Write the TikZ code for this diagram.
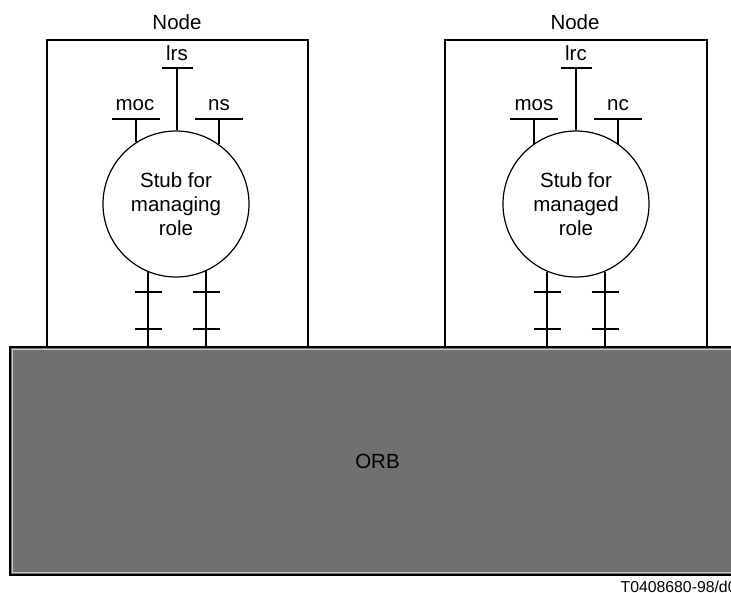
\documentclass[tikz,border=0pt]{standalone}
\usepackage{fontspec}
\setmainfont{Liberation Sans}
\begin{document}
\begin{tikzpicture}
  [x=1pt,y=-1pt,line width=1.2pt,
   every node/.style={font=\fontsize{20.5}{24}\selectfont,inner sep=0pt},
   stub/.style={circle,draw,minimum size=146pt,align=center}]
  \useasboundingbox (0,0) rectangle (731,593);

  % the two nodes
  \draw (47,40) rectangle (308,347);
  \draw (445,40) rectangle (707,347);
  \node (nodeL) at (177,22) {Node};
  \node (nodeR) at (575,22) {Node};

  % stubs
  \node[stub] (stubL) at (176,204) {Stub for\\managing\\role};
  \node[stub] (stubR) at (576,204) {Stub for\\managed\\role};

  % interfaces above the stubs
  \node (lrs) at (177,53) {lrs};
  \node (moc) at (135,105) {moc};
  \node (ns)  at (219,105) {ns};
  \node (lrc) at (576,53) {lrc};
  \node (mos) at (534,105) {mos};
  \node (nc)  at (618,105) {nc};

  \coordinate (lrsB) at (177,68);
  \coordinate (mocB) at (136,119);
  \coordinate (nsB)  at (219,119);
  \coordinate (lrcB) at (576,68);
  \coordinate (mosB) at (534,119);
  \coordinate (ncB)  at (618,119);

  \draw (lrsB) ++(-15,0) -- ++(31,0);
  \draw (lrcB) ++(-15,0) -- ++(31,0);
  \foreach \c in {mocB,nsB,mosB,ncB}
    \draw (\c) ++(-24,0) -- ++(48,0);

  \draw (lrsB) -- (stubL.north -| lrsB);
  \draw (mocB) -- (stubL.123 -| mocB);
  \draw (nsB)  -- (stubL.54 -| nsB);
  \draw (lrcB) -- (stubR.north -| lrcB);
  \draw (mosB) -- (stubR.125 -| mosB);
  \draw (ncB)  -- (stubR.55 -| ncB);

  % ORB
  \node[fill={rgb,255:red,112;green,112;blue,112},draw=black,
        minimum width=735pt,minimum height=228pt] (orb) at (377.5,461) {};
  \draw[line width=1pt,gray!40] (12,349.5) -- (12,572.5) -- (731,572.5)
    (12,349.5) -- (731,349.5);
  \node at (orb.center) {ORB};

  % links from the stubs to the ORB
  \coordinate (aL) at (148,0);
  \coordinate (bL) at (206,0);
  \coordinate (aR) at (547,0);
  \coordinate (bR) at (605,0);
  \draw (stubL.247 -| aL) -- (orb.north -| aL);
  \draw (stubL.294 -| bL) -- (orb.north -| bL);
  \draw (stubR.247 -| aR) -- (orb.north -| aR);
  \draw (stubR.293 -| bR) -- (orb.north -| bR);
  \foreach \c in {aL,bL,aR,bR}{
    \draw (\c) ++(-13.5,292) -- ++(27,0);
    \draw (\c) ++(-13.5,329) -- ++(27,0);
  }

  \node[anchor=west,font=\fontsize{15.8}{18}\selectfont] (code) at (620,587) {T0408680-98/d0};
\end{tikzpicture}
\end{document}
